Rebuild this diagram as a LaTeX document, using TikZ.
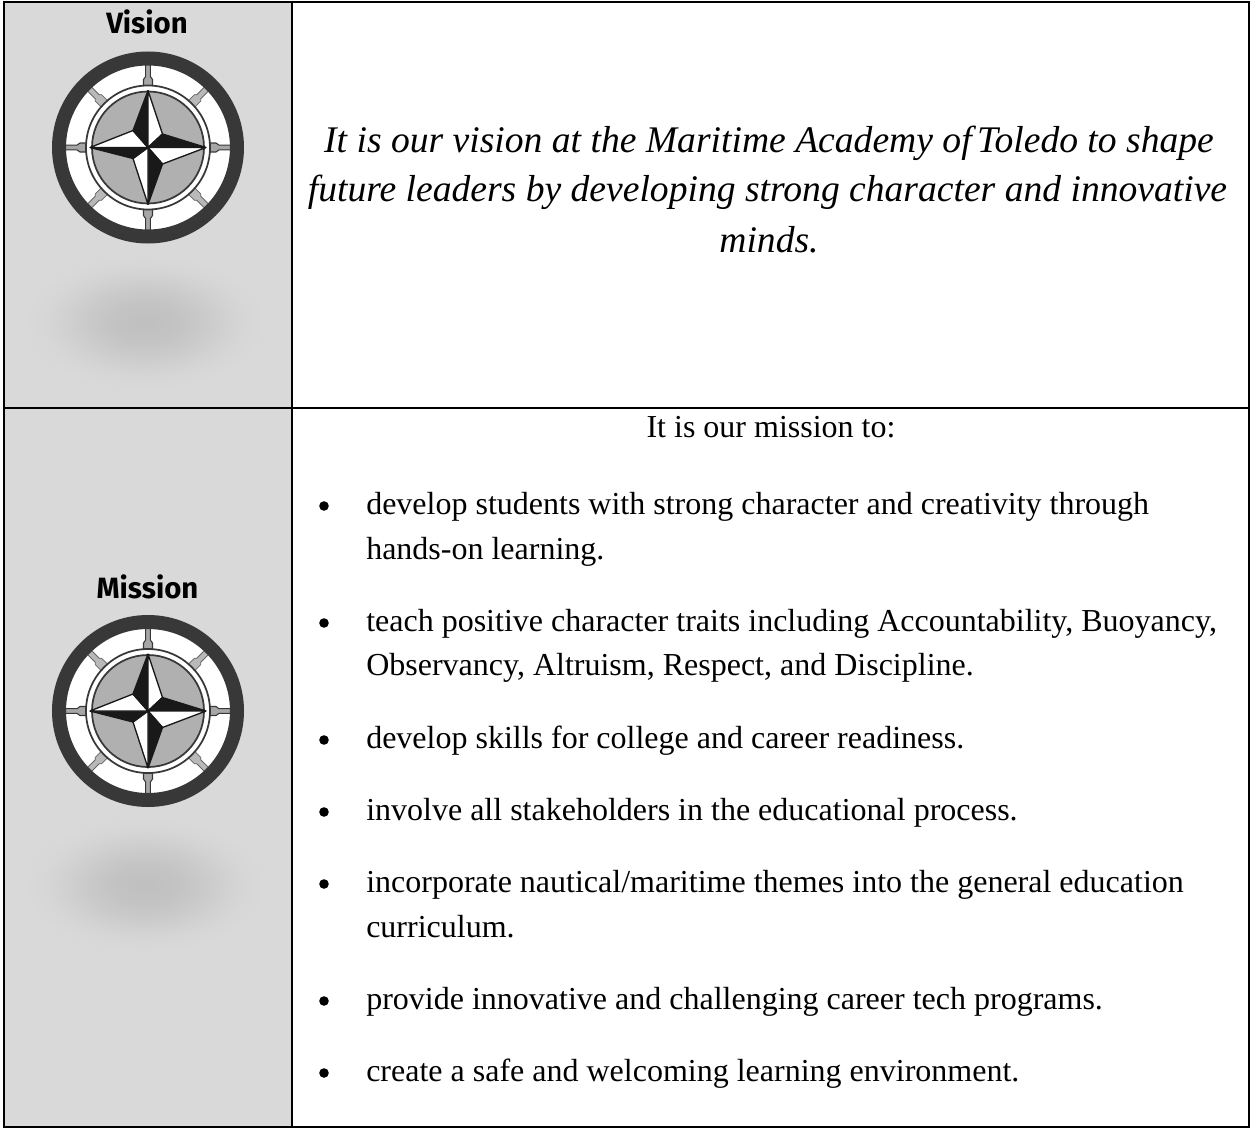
\documentclass[tikz,border=0pt]{standalone}
\usepackage{fontspec}
\setmainfont{Liberation Serif}
\newfontfamily\headfont{Fira Sans}
\usetikzlibrary{calc}
\definecolor{panel}{gray}{0.85}
\definecolor{wheel}{gray}{0.22}
\definecolor{blobA}{gray}{0.75}
\definecolor{blobB}{gray}{0.765}
\definecolor{blobC}{gray}{0.79}
\definecolor{blobD}{gray}{0.82}
\definecolor{blobE}{gray}{0.84}
\pgfdeclareradialshading{blob}{\pgfpoint{0bp}{0bp}}{
 color(0bp)=(blobA); color(7bp)=(blobB); color(12bp)=(blobC); color(17bp)=(blobD); color(21bp)=(blobE); color(25bp)=(panel); color(50bp)=(panel)}
\tikzset{
 px/.style={x=0.75pt,y=-0.75pt},
 rule/.style={line width=1.5pt,black},
 head/.style={font=\headfont\bfseries\fontsize{22pt}{24pt}\selectfont,text=black,inner sep=0pt,anchor=base},
 body/.style={font=\fontsize{24pt}{24pt}\selectfont,text=black,inner sep=0pt,anchor=base west},
 vis/.style={font=\itshape\fontsize{28.2pt}{32pt}\selectfont,text=black,inner sep=0pt,anchor=base},
 dot/.style={circle,fill=black,inner sep=0pt,minimum size=7.2pt}
}
% compass wheel: #1 = centre
\newcommand{\compass}[1]{%
\begin{scope}[shift={(#1)},x=0.75pt,y=-0.75pt]
 \fill[white] (0,0) circle (90);
 \foreach \a in {0,90,180,270}{
  \begin{scope}[rotate=\a]
   \fill[gray!70] (60,-4.5) -- (68,-4.5) -- (71,-2.4) -- (84,-2.4) -- (84,2.4) -- (71,2.4) -- (68,4.5) -- (60,4.5) -- cycle;
   \draw[wheel,line width=0.8pt] (60,-4.5) -- (68,-4.5) -- (71,-2.4) -- (84,-2.4);
   \draw[wheel,line width=0.8pt] (60,4.5) -- (68,4.5) -- (71,2.4) -- (84,2.4);
  \end{scope}}
 \foreach \a in {45,135,225,315}{
  \begin{scope}[rotate=\a]
   \fill[gray!55] (60,-4.5) -- (70,-4.5) -- (72,-2.8) -- (84,-2.8) -- (84,2.8) -- (72,2.8) -- (70,4.5) -- (60,4.5) -- cycle;
   \draw[gray!80!black,line width=0.6pt] (60,-4.5) -- (70,-4.5) -- (72,-2.8) -- (84,-2.8);
   \draw[gray!80!black,line width=0.6pt] (60,4.5) -- (70,4.5) -- (72,2.8) -- (84,2.8);
  \end{scope}}
 \draw[wheel,line width=10.5pt] (0,0) circle (89);
 \fill[white] (0,0) circle (62);
 \draw[wheel,line width=1.3pt] (0,0) circle (62);
 \fill[gray!62] (0,0) circle (56);
 \draw[wheel,line width=1.3pt] (0,0) circle (56);
 % star arms: dark side, then white side
 \coordinate (kul) at (-15,-17); \coordinate (kur) at (14.5,-13.5);
 \coordinate (klr) at (14.5,16.5); \coordinate (kll) at (-15,11);
 \coordinate (tt) at (0,-57); \coordinate (tr) at (58,0);
 \coordinate (tb) at (0,57); \coordinate (tl) at (-58,0);
 \foreach \p/\k in {tt/kul,tr/kur,tb/klr,tl/kll}{
   \fill[black!90] (0,0) -- (\p) -- (\k) -- cycle;}
 \foreach \p/\k in {tt/kur,tr/klr,tb/kll,tl/kul}{
   \fill[white] (0,0) -- (\p) -- (\k) -- cycle;
   \draw[black!90,line width=1pt,line join=round] (0,0) -- (\p) -- (\k) -- cycle;}
 \foreach \p/\k in {tt/kul,tr/kur,tb/klr,tl/kll}{
   \draw[black!90,line width=1pt,line join=round] (\p) -- (\k) -- (0,0);}
\end{scope}}
\begin{document}
\begin{tikzpicture}[px]
 \useasboundingbox (0,0) rectangle (1250,1128);
 \fill[white] (0,0) rectangle (1250,1128);
 \fill[panel] (3.7,1.5) rectangle (292,1127);
 \shade[shading=blob,shift={(145,322)},xscale=1.64,yscale=0.92] (0,0) circle (72);
 \shade[shading=blob,shift={(145,885)},xscale=1.64,yscale=0.92] (0,0) circle (72);
 \compass{148,147.5}
 \compass{148,711}
 \draw[rule] (3.7,1.5) rectangle (1249,1127);
 \draw[rule] (292,1.5) -- (292,1127);
 \draw[rule] (3.7,408) -- (1249,408);
 \node[head] (h1) at (147,33) {Vision};
 \node[head] (h2) at (147.5,598) {Mission};
 \node[vis] (v1) at (769,152) {It is our vision at the Maritime Academy of\kern-3pt\ Toledo to shape};
 \node[vis] (v2) at (767.5,201.5) {future leaders by developing strong character and innovative};
 \node[vis] (v3) at (769,252) {minds.};
 \node[font=\fontsize{24pt}{24pt}\selectfont,inner sep=0pt,anchor=base] (m0) at (771,437.5) {It is our mission to:};
 \foreach \n/\y/\t in {
   a/514/{develop students with strong character and creativity through},
   b/559/{hands-on learning.},
   c/631/{teach positive character traits including Accountability, Buoyancy,},
   d/675/{Observancy, Altruism, Respect, and Discipline.},
   e/748/{develop skills for college and career readiness.},
   f/820/{involve all stakeholders in the educational process.},
   g/892/{incorporate nautical/maritime themes into the general education},
   h/937/{curriculum.},
   i/1009/{provide innovative and challenging career tech programs.},
   j/1081/{create a safe and welcoming learning environment.}}{
   \node[body] (\n) at (366,\y) {\t};
 }
 \foreach \y in {506,623,740,812,884,1001,1073}{
   \node[dot] at (324,\y) {};
 }
\end{tikzpicture}
\end{document}
